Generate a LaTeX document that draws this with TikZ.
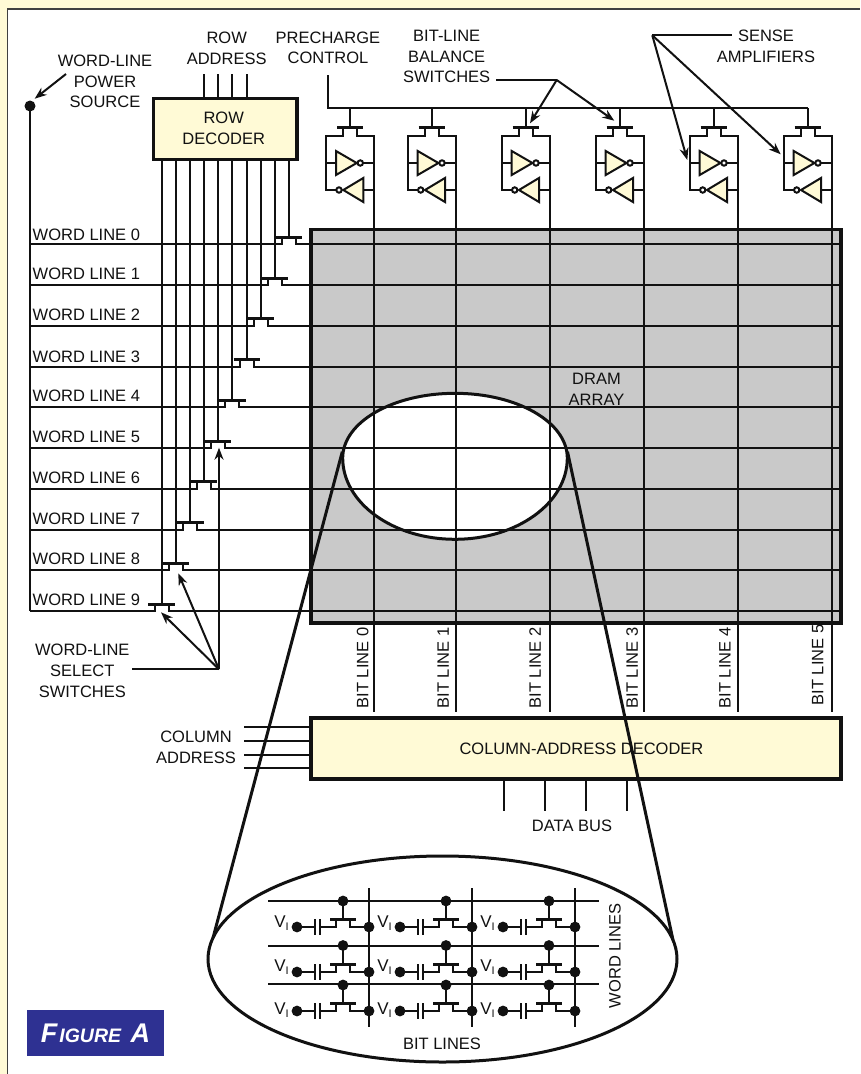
\documentclass[tikz,border=0pt]{standalone}
\usepackage{fontspec}
\setmainfont{Liberation Sans}
\usepackage{tikz}
\usetikzlibrary{arrows.meta}
\definecolor{creamfill}{HTML}{FFFAD6}
\definecolor{arraygray}{HTML}{C9C9C9}
\definecolor{figblue}{HTML}{2E3192}
\definecolor{inkblack}{HTML}{111111}
\tikzset{
  wire/.style={line width=2pt, draw=inkblack},
  bar/.style={line width=3pt, draw=inkblack},
  fat/.style={line width=3pt, draw=inkblack},
  arrowline/.style={line width=2pt, draw=inkblack, -{Stealth[length=12pt,width=9pt]}},
  lbl/.style={inner sep=0pt, align=center, text=inkblack, font=\fontsize{16.5}{20.7}\selectfont},
  decoder/.style={draw=inkblack, line width=3.2pt, fill=creamfill, inner sep=0pt},
  solder/.style={circle, fill=inkblack, inner sep=0pt, minimum size=11pt}
}
\begin{document}
\begin{tikzpicture}[x=1pt, y=-1pt]
  \useasboundingbox (0,0) rectangle (860,1074);
  \fill[creamfill] (0,0) rectangle (860,1074);
  \fill[white] (7.5,9) rectangle (860,1074);
  \draw[line width=1.5pt, draw=black!75] (7.5,1074) -- (7.5,9) -- (860,9);
  \fill[arraygray] (311,229.5) rectangle (841,623);
  % blown-up region of the array
  \fill[white] (455,393.3) .. controls (517,393.3) and (567.3,422) .. (567.3,458) .. controls (567.3,503) and (517,539.3) .. (455,539.3) .. controls (393,539.3) and (342.7,503) .. (342.7,458) .. controls (342.7,422) and (393,393.3) .. cycle;
  % sense amplifiers and bit lines
  \draw[wire] (328,75) -- (328,108.3) -- (807.7,108.3);
  \foreach \bl/\n in {374/0,455.7/1,549.7/2,643.7/3,737.7/4,831.7/5} {
    \draw[wire] (\bl-24,108.3) -- (\bl-24,127.5);
    \draw[bar] (\bl-37,127.5) -- (\bl-11,127.5);
    \draw[wire] (\bl-31,127.5) -- (\bl-31,135.5) -- (\bl-48,135.5) -- (\bl-48,190) -- (\bl-37.5,190);
    \draw[wire] (\bl-17,127.5) -- (\bl-17,135.5) -- (\bl,135.5) -- (\bl,711.5);
    \draw[wire] (\bl-48,163) -- (\bl-38,163) (\bl-11,190) -- (\bl,190) (\bl-11,163) -- (\bl,163);
    \draw[wire, fill=creamfill] (\bl-38,151) -- (\bl-38,175) -- (\bl-17.3,163) -- cycle;
    \draw[wire, fill=white] (\bl-13.7,163) circle (2.7);
    \draw[wire, fill=creamfill] (\bl-10.7,178) -- (\bl-10.7,202) -- (\bl-30.7,190) -- cycle;
    \draw[wire, fill=white] (\bl-35,190) circle (2.7);
  }
  % word lines and select switches
  \draw[wire] (30,106) -- (30,611);
  \node[solder] (wlsource) at (30,106) {};
  \foreach \wl/\xg/\dy in {0/289/9.3,1/275/11,2/261/11,3/247/9.7,4/232.3/11,5/218/11,6/204/11,7/190.3/11,8/175.7/11.5,9/161.7/11} {
    \pgfmathsetmacro{\yw}{244.3+40.75*\wl}
    \draw[wire] (30,\yw) -- (\xg-7,\yw) -- (\xg-7,\yw-7);
    \draw[wire] (\xg+7,\yw-7) -- (\xg+7,\yw) -- (839,\yw);
    \draw[wire] (\xg,159) -- (\xg,\yw-7);
    \draw[bar] (\xg-13.3,\yw-7) -- (\xg+13.3,\yw-7);
    \node[lbl, anchor=west] (wltext\wl) at (32.5,\yw-\dy) {WORD LINE \wl};
  }
  \foreach \x in {204,218,232,247} \draw[wire] (\x,74) -- (\x,98);
  % array outline
  \draw[line width=3.2pt, draw=inkblack] (311,229.5) rectangle (841,623);
  \draw[fat] (455,393.3) .. controls (517,393.3) and (567.3,422) .. (567.3,458) .. controls (567.3,503) and (517,539.3) .. (455,539.3) .. controls (393,539.3) and (342.7,503) .. (342.7,458) .. controls (342.7,422) and (393,393.3) .. cycle;
  \node[lbl] (arrayname) at (596.5,389) {DRAM\\ARRAY};
  \node[decoder, minimum width=143.3pt, minimum height=61pt] (rowdec) at (225.3,128.8) {};
  \node[lbl] (rowdectext) at (223.7,128.5) {ROW\\DECODER};
  % column decoder
  \foreach \y in {727.3,741,754.7,768.3} \draw[wire] (244.3,\y) -- (311,\y);
  \foreach \x in {503.7,544.7,586,626.7} \draw[wire] (\x,779) -- (\x,810.5);
  \node[decoder, minimum width=530pt, minimum height=61pt] (coldec) at (576,748.5) {};
  \node[lbl] (coldectext) at (581.5,749) {COLUMN-ADDRESS DECODER};
  \node[lbl] (databus) at (572,826) {DATA BUS};
  \node[lbl] (coladdr) at (196,747) {COLUMN\\ADDRESS};
  % labels and their arrows
  \node[lbl] (rowaddr) at (226.7,48.3) {ROW\\ADDRESS};
  \node[lbl] (precharge) at (328,47.7) {PRECHARGE\\CONTROL};
  \node[lbl] (bitswitch) at (446.7,56.7) {BIT-LINE\\BALANCE\\SWITCHES};
  \node[lbl] (senseamp) at (766,46.5) {SENSE\\AMPLIFIERS};
  \node[lbl] (wlpower) at (105,81.5) {WORD-LINE\\POWER\\SOURCE};
  \node[lbl] (wlselect) at (82.3,670.7) {WORD-LINE\\SELECT\\SWITCHES};
  \coordinate (powertail) at (66,74);
  \coordinate (bitfan) at (556.7,80);
  \coordinate (sensefan) at (652.3,35.3);
  \coordinate (selectfan) at (219,669.3);
  \draw[arrowline] (powertail) -- (34.7,98.7);
  \draw[wire] (496,80) -- (bitfan);
  \draw[arrowline] (bitfan) -- (530,123.3);
  \draw[arrowline] (bitfan) -- (614.3,120.7);
  \draw[wire] (731.7,35.3) -- (sensefan);
  \draw[arrowline] (sensefan) -- (687.3,160);
  \draw[arrowline] (sensefan) -- (780.7,154.3);
  \draw[wire] (132.3,669.3) -- (selectfan);
  \draw[arrowline] (selectfan) -- (219,447.7);
  \draw[arrowline] (selectfan) -- (178.3,573.3);
  \draw[arrowline] (selectfan) -- (161,612.3);
  \foreach \n/\x/\y in {0/362.7/668,1/443.3/668,2/535/668,3/632.3/668,4/725/668,5/817.7/665}
    \node[lbl, rotate=90] (bltext\n) at (\x,\y) {BIT LINE \n};
  % magnified cell array
  \draw[fat] (442.5,959) ellipse (234.5 and 103);
  \draw[fat] (342.3,451.7) -- (213,938);
  \draw[fat] (567.5,451.7) -- (673,940);
  \foreach \y in {901,945.5,984} \draw[wire] (268,\y) -- (599,\y);
  \foreach \x in {369,472,575} \draw[wire] (\x,888) -- (\x,1027);
  \foreach \cx in {0,103,206} {
    \foreach \yw/\yc/\vy in {901/927/922.7,945.5/972/967,985/1011/1010} {
      \draw[wire] (343+\cx,\yw) -- (343+\cx,\yc-7.5);
      \draw[bar] (330+\cx,\yc-7.5) -- (356+\cx,\yc-7.5);
      \draw[wire] (369+\cx,\yc) -- (350+\cx,\yc) -- (350+\cx,\yc-7.5);
      \draw[wire] (336+\cx,\yc-7.5) -- (336+\cx,\yc) -- (320+\cx,\yc);
      \draw[wire] (320+\cx,\yc-8) -- (320+\cx,\yc+8);
      \draw[wire] (314.7+\cx,\yc-8) -- (314.7+\cx,\yc+8);
      \draw[wire] (314.7+\cx,\yc) -- (297+\cx,\yc);
      \fill[inkblack] (343+\cx,\yw) circle (5.4) (369+\cx,\yc) circle (5.4) (297+\cx,\yc) circle (5.4);
      \node[inner sep=0pt, text=inkblack, font=\fontsize{17}{20}\selectfont] at (281.5+\cx,\vy) {V\raisebox{-3pt}{\fontsize{11}{13}\selectfont I}};
    }
  }
  \node[lbl, rotate=90] (wordlines) at (615,956) {WORD LINES};
  \node[lbl] (bitlines) at (442,1044) {BIT LINES};
  % figure tag
  \node[fill=figblue, minimum width=137pt, minimum height=46pt, inner sep=0pt, text=white, font=\bfseries\itshape] (figtag) at (95.5,1033) {\fontsize{27}{30}\selectfont F\kern2pt{\fontsize{19.5}{30}\selectfont IGURE}\kern9.5pt A};
\end{tikzpicture}
\end{document}
